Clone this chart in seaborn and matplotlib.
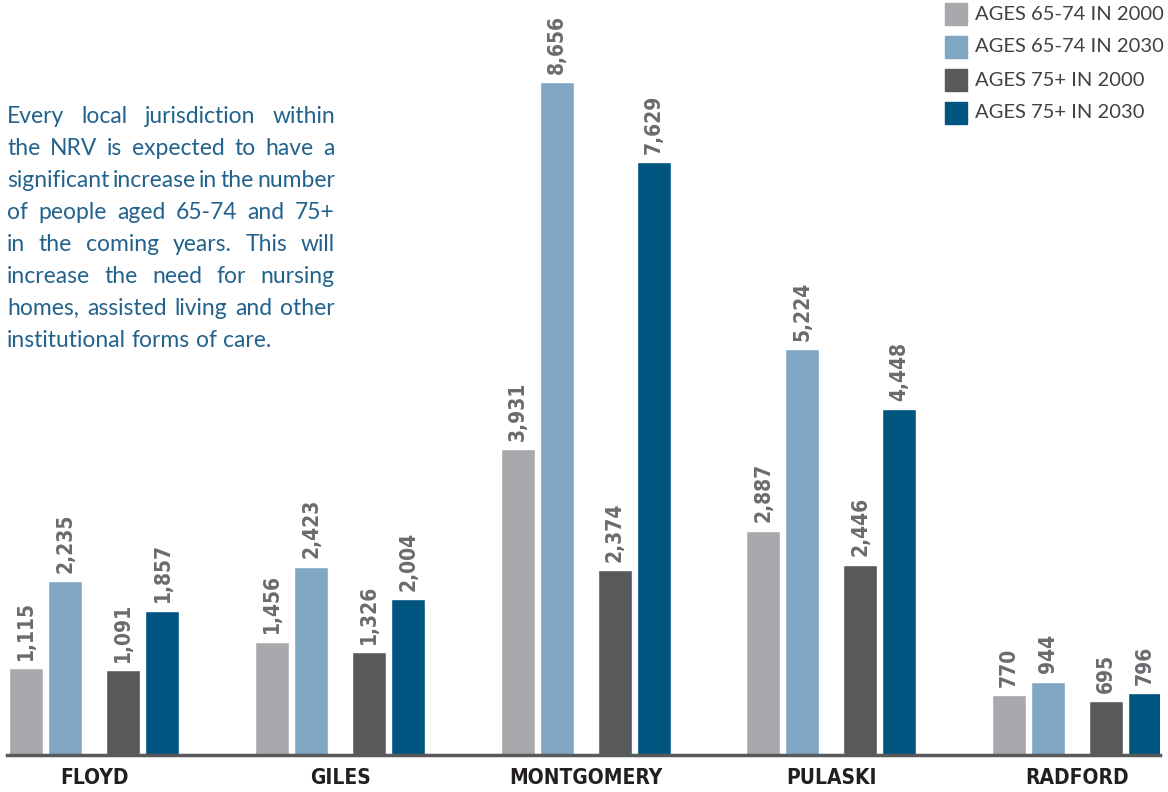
import numpy as np
import pandas as pd
import seaborn as sns
import matplotlib.pyplot as plt
from matplotlib.patches import Rectangle

# Older-adult population by jurisdiction, New River Valley
counties = ["FLOYD", "GILES", "MONTGOMERY", "PULASKI", "RADFORD"]
series_names = ["AGES 65-74 IN 2000", "AGES 65-74 IN 2030",
                "AGES 75+ IN 2000", "AGES 75+ IN 2030"]
ages_65_74_2000 = [1115, 1456, 3931, 2887, 770]
ages_65_74_2030 = [2235, 2423, 8656, 5224, 944]
ages_75_2000 = [1091, 1326, 2374, 2446, 695]
ages_75_2030 = [1857, 2004, 7629, 4448, 796]
series_values = [ages_65_74_2000, ages_65_74_2030, ages_75_2000, ages_75_2030]
series_colors = ["#a7a9ac", "#7fa7c4", "#58595b", "#005581"]

note_lines = [
    "Every local jurisdiction within",
    "the NRV is expected to have a",
    "significant increase in the number",
    "of people aged 65-74 and 75+",
    "in the coming years.  This will",
    "increase the need for nursing",
    "homes, assisted living and other",
    "institutional forms of care.",
]

sns.set_theme(style="white")
plt.rcParams["font.family"] = ["DejaVu Sans"]
light = ["Lato", "DejaVu Sans"]

W, H = 1168, 792
fig = plt.figure(figsize=(W / 100, H / 100), dpi=100)
ax = fig.add_axes([7 / W, (H - 755) / H, (1160 - 7) / W, 755 / H])

# two pairs of bars per county, with a wider gap between the pairs
offsets = [-0.277, -0.118, 0.118, 0.277]
group_pos = np.arange(len(counties))
for i, (vals, color) in enumerate(zip(series_values, series_colors)):
    df = pd.DataFrame({"pos": group_pos + offsets[i], "value": vals})
    sns.barplot(data=df, x="pos", y="value", native_scale=True, width=0.1384,
                color=color, saturation=1, errorbar=None, ax=ax)
    ax.bar_label(ax.containers[i], labels=[f"{v:,}" for v in vals],
                 rotation=90, padding=6, fontsize=15, color="#6a6b6e",
                 fontweight="bold", fontstretch="condensed")

ax.set_xlim(-0.356, 4.338)
ax.set_ylim(0, 9711)
for side in ["top", "right", "left"]:
    ax.spines[side].set_visible(False)
ax.spines["bottom"].set_color("#58595b")
ax.spines["bottom"].set_linewidth(2.5)
ax.set_yticks([])
ax.set_xticks(group_pos)
ax.set_xticklabels(counties, fontsize=15, fontweight="bold",
                   color="#231f20", fontstretch="condensed")
ax.tick_params(axis="x", length=0, pad=9)
ax.set_xlabel("")
ax.set_ylabel("")

# legend in the top-right corner
for k, (name, color) in enumerate(zip(series_names, series_colors)):
    cy = 14 + 33 * k
    fig.patches.append(Rectangle((945 / W, 1 - (cy + 11) / H), 22 / W, 22 / H,
                                 transform=fig.transFigure, color=color))
    fig.text(975 / W, 1 - cy / H, name, fontsize=14.5, color="#414042",
             family=light, va="center", ha="left")

# justified note on the left
fig.canvas.draw()
renderer = fig.canvas.get_renderer()
left_px, right_px = 7, 335
note_color = "#22628c"
note_size = 16.5
for li, line in enumerate(note_lines):
    base = 1 - (123 + 32 * li) / H
    words = line.split()
    texts = [fig.text(0, base, w, fontsize=note_size, color=note_color,
                      family=light, va="baseline", ha="left") for w in words]
    widths = [t.get_window_extent(renderer).width for t in texts]
    if li == len(note_lines) - 1:
        pair = fig.text(0, 0, "a a", fontsize=note_size, family=light)
        joined = fig.text(0, 0, "aa", fontsize=note_size, family=light)
        gap = (pair.get_window_extent(renderer).width
               - joined.get_window_extent(renderer).width)
        pair.remove()
        joined.remove()
    else:
        gap = (right_px - left_px - sum(widths)) / (len(words) - 1)
    x = left_px
    for t, w in zip(texts, widths):
        t.set_x(x / W)
        x += w + gap

fig.savefig("out.png", dpi=100)
